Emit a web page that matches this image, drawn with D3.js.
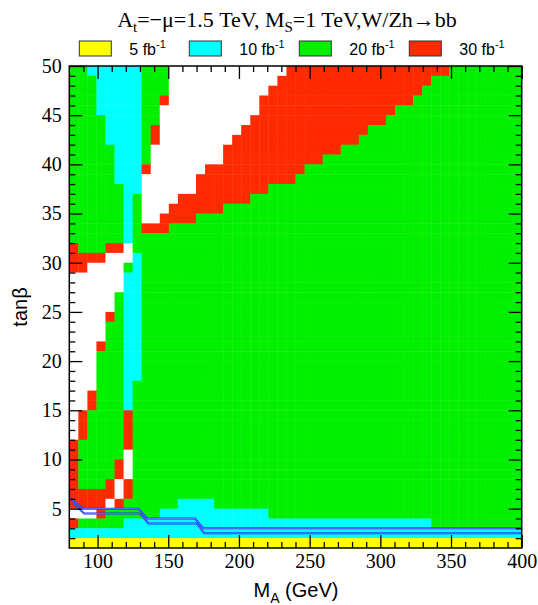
<!DOCTYPE html>
<html><head><meta charset="utf-8">
<script src="https://cdn.jsdelivr.net/npm/d3@7"></script>
<style>body{margin:0;background:#fff}</style>
</head><body>
<svg id="c" width="538" height="605"></svg>
<script>
// ---- data ----
const maRange = [80, 400];          // M_A range (GeV)
const tanbRange = [1, 50];          // tan(beta) range
const nCols = 50;                   // M_A bins
// row lower tanβ edge, from top to bottom
const tanbLow = [49,48,47,46,45,44,43,42,41,40,39,38,37,36,35,34,33,32,31,30,29,28,27,26,25,24,23,22,21,20,19,18,17,16,15,14,13,12,11,10,9,8,7,6,5,4,3,2,1];
// run-length coded luminosity class per row (Y=5, C=10, G=20, R=30 fb^-1, W=none)
const rowRuns = [
 "2G6C3G13W18R8G",
 "3G5C3G12W17R10G",
 "3G5C3G11W17R11G",
 "3G5C2G1R10W17R12G",
 "3G5C2G11W15R14G",
 "4G4C2G10W15R15G",
 "4G4C1G1R9W14R17G",
 "4G4C1G1R8W14R18G",
 "5G3C1G8W13R20G",
 "5G3C1G8W11R22G",
 "5G3C1R6W11R24G",
 "5G3C6W11R25G",
 "6G2C6W8R28G",
 "6G1C1G4W8R30G",
 "6G1C1G3W6R33G",
 "6G1C1G2W4R36G",
 "6G1C1G3R39G",
 "6G1C43G",
 "1R3G2R1W43G",
 "4R3W1C42G",
 "2R4W1G1C42G",
 "6W2C42G",
 "6W2C42G",
 "5W1G2C42G",
 "5W1G2C42G",
 "4W1R1G2C42G",
 "4W2G2C42G",
 "4W2G2C42G",
 "3W1R2G2C42G",
 "3W3G2C42G",
 "3W3G2C42G",
 "3W3G2C42G",
 "3W3G1C43G",
 "2W1R3G1C43G",
 "2W1R3G1C43G",
 "1W1R4G1R43G",
 "1W1R4G1R43G",
 "1W1R4G1R43G",
 "1R5G1R43G",
 "1R5G1W43G",
 "1R4G1R1W43G",
 "1R4G1R1W43G",
 "1R3G1R1W1R43G",
 "5R1W1R43G",
 "4R1W1R6G4C34G",
 "3W1R6G12C28G",
 "1R5G34C10G",
 "50C",
 "50Y"
];
const legendCodes = ["Y","C","G","R"];
const legendLumi = ["5","10","20","30"];
const xTickLabels = [100,150,200,250,300,350,400];
const yTickLabels = [5,10,15,20,25,30,35,40,45,50];
// two blue contour lines
const lineA_mA = [80.4, 89.9, 128.8, 135.2, 168.9, 174.8, 400];
const lineA_tb = [6.1, 5.0, 5.0, 4.0, 4.0, 3.0, 3.0];
const lineB_mA = [82.5, 90.5, 130.0, 136.0, 170.1, 175.5, 400];
const lineB_tb = [5.6, 4.5, 4.5, 3.5, 3.5, 2.5, 2.5];

const colors = {Y:"#ffff00", C:"#00ffff", G:"#00f000", R:"#ff2a00", W:"#ffffff"};

// ---- drawing ----
const svg = d3.select("#c");
const L = 69.3, Rr = 521.7, T = 66, B = 548;
const x = d3.scaleLinear().domain(maRange).range([L, Rr]);
const y = d3.scaleLinear().domain(tanbRange).range([B, T]);
const colEdges = d3.range(nCols + 1).map(i => maRange[0] + i * (maRange[1] - maRange[0]) / nCols);

function decode(s) {
  const out = [];
  s.replace(/(\d+)([A-Z])/g, (m, n, c) => { for (let i = 0; i < +n; i++) out.push(c); });
  return out;
}
const cells = [];
rowRuns.forEach((r, ri) => {
  decode(r).forEach((c, ci) => cells.push({col: ci, lo: tanbLow[ri], c}));
});

svg.append("g").selectAll("rect").data(cells).join("rect")
  .attr("x", d => x(colEdges[d.col]))
  .attr("y", d => y(d.lo + 1))
  .attr("width", d => x(colEdges[d.col + 1]) - x(colEdges[d.col]) + 0.4)
  .attr("height", d => y(d.lo) - y(d.lo + 1) + 0.4)
  .attr("fill", d => colors[d.c]);

// contour lines
const line = d3.line().x(d => x(d[0])).y(d => y(d[1]));
[[lineA_mA, lineA_tb], [lineB_mA, lineB_tb]].forEach(([m, t]) => {
  const pts = m.map((v, i) => [v, t[i]]);
  svg.append("path").attr("d", line(pts)).attr("fill", "none")
    .attr("stroke", "#2233ff").attr("stroke-width", 2.0);
  svg.append("path").attr("d", line(pts)).attr("fill", "none")
    .attr("stroke", "#7fa0ff").attr("stroke-width", 0.6);
});

// axes
const xMinor = d3.range(90, 400, 10).filter(v => v % 50 !== 0);
const yMinor = d3.range(2, 50, 1).filter(v => v % 5 !== 0);
const serif = "'Liberation Serif', 'Times New Roman', serif";
const sans = "'Liberation Sans', Arial, sans-serif";

function styleAxis(g) {
  g.attr("font-family", null).attr("font-size", null);
  g.select(".domain").remove();
  g.selectAll(".tick line").attr("stroke", "#000").attr("stroke-width", 1.3);
  g.selectAll("text").style("font-family", serif).style("font-size", "20px").attr("fill", "#000");
}
svg.append("g").attr("transform", `translate(0,${B})`)
  .call(d3.axisBottom(x).tickValues(xMinor).tickSize(-6).tickFormat("")).call(styleAxis);
svg.append("g").attr("transform", `translate(0,${B})`)
  .call(d3.axisBottom(x).tickValues(xTickLabels).tickSize(-13).tickPadding(6).tickFormat(d3.format("d"))).call(styleAxis);
svg.append("g").attr("transform", `translate(0,${T})`)
  .call(d3.axisTop(x).tickValues(xMinor).tickSize(-6).tickFormat("")).call(styleAxis);
svg.append("g").attr("transform", `translate(0,${T})`)
  .call(d3.axisTop(x).tickValues(xTickLabels).tickSize(-13).tickFormat("")).call(styleAxis);
svg.append("g").attr("transform", `translate(${L},0)`)
  .call(d3.axisLeft(y).tickValues(yMinor).tickSize(-6).tickFormat("")).call(styleAxis);
svg.append("g").attr("transform", `translate(${L},0)`)
  .call(d3.axisLeft(y).tickValues(yTickLabels).tickSize(-13).tickPadding(7.5).tickFormat(d3.format("d"))).call(styleAxis);
svg.append("g").attr("transform", `translate(${Rr},0)`)
  .call(d3.axisRight(y).tickValues(yMinor).tickSize(-6).tickFormat("")).call(styleAxis);
svg.append("g").attr("transform", `translate(${Rr},0)`)
  .call(d3.axisRight(y).tickValues(yTickLabels).tickSize(-13).tickFormat("")).call(styleAxis);

svg.append("rect").attr("x", L).attr("y", T).attr("width", Rr - L).attr("height", B - T)
  .attr("fill", "none").attr("stroke", "#000").attr("stroke-width", 1.5);

// title
const title = svg.append("text").attr("x", 287).attr("y", 27).attr("text-anchor", "middle")
  .style("font-family", serif).style("font-size", "22px").attr("fill", "#000");
title.append("tspan").text("A");
title.append("tspan").style("font-size", "15px").attr("dy", 5).text("t");
title.append("tspan").attr("dy", -5).text("=\u2212\u03bc=1.5 TeV, M");
title.append("tspan").style("font-size", "15px").attr("dy", 5).text("S");
title.append("tspan").attr("dy", -5).text("=1 TeV,W/Zh\u2192bb");

// legend
const legBoxX = [79.3, 189.3, 299.3, 409.3];
legendCodes.forEach((c, i) => {
  svg.append("rect").attr("x", legBoxX[i]).attr("y", 41).attr("width", 32).attr("height", 15)
    .attr("fill", colors[c]).attr("stroke", "#333").attr("stroke-width", 1);
  const t = svg.append("text").attr("x", legBoxX[i] + 50).attr("y", 55)
    .style("font-family", sans).style("font-size", "16px").attr("fill", "#000");
  t.append("tspan").text(legendLumi[i] + " fb");
  t.append("tspan").style("font-size", "11px").attr("dy", -7).text("-1");
});

// axis titles
const xt = svg.append("text").attr("x", 296).attr("y", 597).attr("text-anchor", "middle")
  .style("font-family", sans).style("font-size", "20px").attr("fill", "#000");
xt.append("tspan").text("M");
xt.append("tspan").style("font-size", "14px").attr("dy", 6).text("A");
xt.append("tspan").attr("dy", -6).text(" (GeV)");

svg.append("text").attr("transform", `translate(27,${(T + B) / 2}) rotate(-90)`)
  .attr("text-anchor", "middle").style("font-family", sans).style("font-size", "20px").attr("fill", "#000")
  .text("tan\u03b2");
</script>
</body></html>
